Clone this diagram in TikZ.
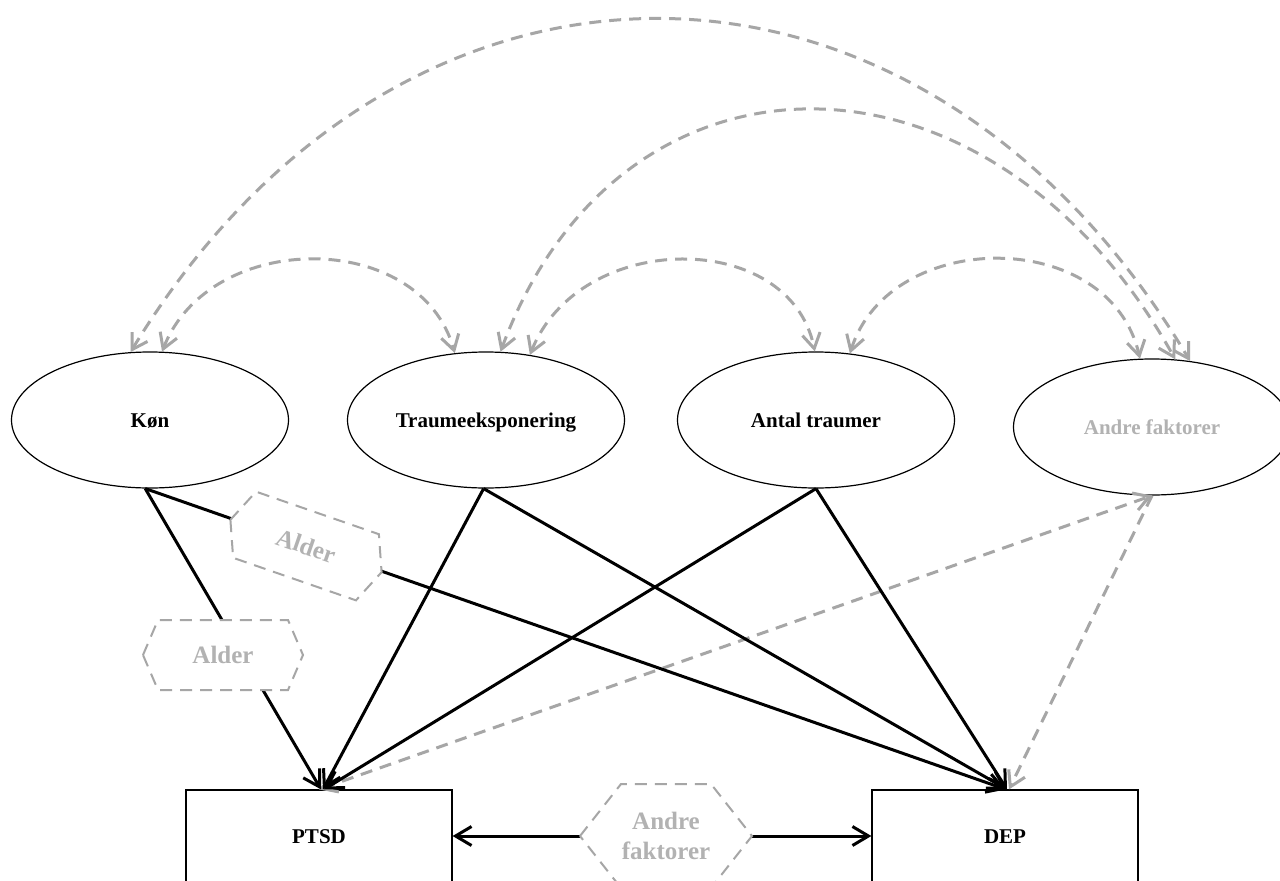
\documentclass[tikz,border=0pt]{standalone}
\usepackage{fontspec}
\setmainfont{Liberation Serif}
\usetikzlibrary{arrows.meta,shapes.geometric}
\definecolor{lgray}{RGB}{166,166,166}
\definecolor{tgray}{RGB}{178,178,178}
\begin{document}
\begin{tikzpicture}[x=1pt,y=-1pt,
  lbl/.style={font=\fontsize{21}{25}\selectfont\bfseries, text height=18pt, text depth=4pt},
  ell/.style={ellipse, draw, line width=1.2pt, minimum width=277pt, minimum height=136pt, inner sep=0pt, lbl},
  box/.style={rectangle, draw, line width=1.2pt, minimum width=266pt, minimum height=92pt, inner sep=0pt, lbl},
  hexlbl/.style={font=\fontsize{25}{30}\selectfont\bfseries, text=tgray, align=center, inner sep=0pt},
  hexline/.style={draw=lgray, line width=2pt, dash pattern=on 12pt off 8pt, fill=white},
  tip/.style={},
  blackarrow/.style={line width=3pt, -{Straight Barb[length=16pt,width=19pt]}},
  grayline/.style={draw=lgray, line width=3pt, dash pattern=on 12pt off 8pt},
  graytwo/.style={grayline, {Straight Barb[length=15pt,width=18pt]}-{Straight Barb[length=15pt,width=18pt]}},
  grayone/.style={grayline, -{Straight Barb[length=15pt,width=18pt]}},
]
\clip (0,0) rectangle (1280,881);
\fill[white] (0,0) rectangle (1280,881);

% main nodes
\node[ell] (kon) at (150,420) {Køn};
\node[ell] (trauma) at (486,420) {Traumeeksponering};
\node[ell] (antal) at (816,420) {Antal traumer};
\node[ell, text=tgray] (andre) at (1152,427) {Andre faktorer};
\node[box] (ptsd) at (319,836) {PTSD};
\node[box] (dep) at (1005,836) {DEP};

% hexagon centres
\coordinate (hA) at (223,655);
\coordinate (hB) at (306,546);
\coordinate (hC) at (666,836);
\coordinate (hCl) at (580,836);
\coordinate (hCr) at (752,836);

% correlations (top arcs)
\draw[graytwo] (kon.106.5) .. controls (401,-93) and (919,-93) .. (andre.60);
\draw[graytwo] (kon.80) .. controls (210,229) and (420,229) .. (trauma.115);
\draw[graytwo] (trauma.78) .. controls (620,28) and (990,28) .. (andre.71);
\draw[graytwo] (trauma.56) .. controls (580,229) and (790,229) .. (antal.91);
\draw[graytwo] (antal.63) .. controls (890,227) and (1110,227) .. (andre.100);

% gray dashed paths
\draw[graytwo] (ptsd.north) -- (andre.south);
\draw[grayone] (andre.south) -- ([xshift=4pt]dep.north);

% black paths
\draw[blackarrow] (kon.-94) -- ([xshift=2pt]ptsd.north);
\draw[blackarrow] (kon.-94) -- ([xshift=1pt]dep.north);
\draw[blackarrow] (trauma.-92.5) -- ([xshift=4pt]ptsd.north);
\draw[blackarrow] (trauma.-92.5) -- ([xshift=2pt]dep.north);
\draw[blackarrow] (antal.south) -- ([xshift=5pt]ptsd.north);
\draw[blackarrow] (antal.south) -- ([xshift=2pt]dep.north);
\draw[blackarrow] (hCl) -- (ptsd.east);
\draw[blackarrow] (hCr) -- (dep.west);

% hexagon outlines
\draw[hexline, shift={(hA)}] (-80,0) -- (-65,-35) -- (65,-35) -- (80,0) -- (65,35) -- (-65,35) -- cycle;
\draw[hexline, shift={(hB)}, rotate=-19.1] (-80,0) -- (-65,-35) -- (65,-35) -- (80,0) -- (65,35) -- (-65,35) -- cycle;
\draw[hexline, shift={(hC)}] (-86,0) -- (-45,-52) -- (45,-52) -- (86,0) -- (45,52) -- (-45,52) -- cycle;

% hexagon labels
\node[hexlbl] (alderA) at (hA) {Alder};
\node[hexlbl, rotate=-19.1] (alderB) at (hB) {Alder};
\node[hexlbl] (afhex) at (hC) {Andre\\faktorer};
\end{tikzpicture}
\end{document}
